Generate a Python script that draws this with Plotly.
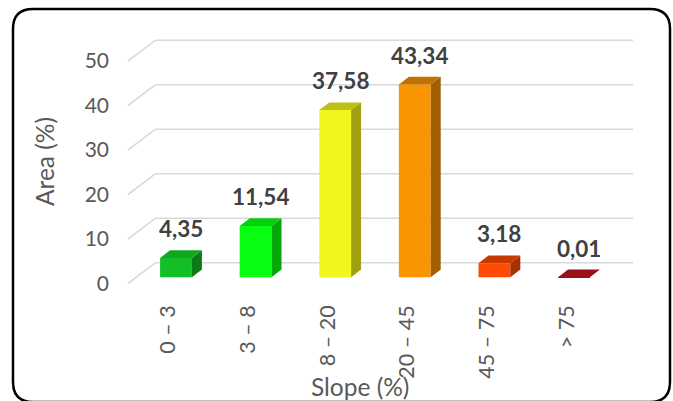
import plotly.graph_objects as go

# Slope classes and share of area (%)
categories = ["0 – 3", "3 – 8", "8 – 20", "20 – 45", "45 – 75", "> 75"]
area_pct = [4.35, 11.54, 37.58, 43.34, 3.18, 0.01]
value_labels = ["4,35", "11,54", "37,58", "43,34", "3,18", "0,01"]
y_ticks = [0, 10, 20, 30, 40, 50]

# Face colours for each column: front, top, side
front_colors = ["#13BF27", "#09FF12", "#F0F71C", "#F99500", "#FF4A08", "#9A1018"]
top_colors = ["#0FA820", "#06CF0E", "#BDBF14", "#C07200", "#C73A00", "#9A1018"]
side_colors = ["#0B7A17", "#04A80A", "#A0A010", "#A05F00", "#A63000", "#7A0C12"]

FONT = "Lato"
BAR_W = 0.4
# oblique depth offsets (axis units)
DEPTH_X, DEPTH_Y = 0.1256, 1.73      # column thickness
WALL_X, WALL_Y = 0.2425, 3.28        # back wall behind the columns
FLOOR_X, FLOOR_Y = -0.103, -1.393    # front edge of the floor

x_idx = list(range(len(categories)))

fig = go.Figure()

# back-wall gridlines with slanted side-wall segments
shapes = []
x_left = -0.5
x_right = len(categories) - 0.5
for v in y_ticks:
    shapes.append(dict(
        type="path", xref="x", yref="y", layer="below",
        path=(f"M {x_left + FLOOR_X} {v + FLOOR_Y} "
              f"L {x_left + WALL_X} {v + WALL_Y} "
              f"L {x_right + WALL_X} {v + WALL_Y}"),
        line=dict(color="#D9D9D9", width=1.6),
    ))

# column front faces
fig.add_trace(go.Bar(
    x=x_idx, y=area_pct, width=BAR_W,
    marker=dict(color=front_colors, line=dict(width=0)),
    hoverinfo="skip", showlegend=False,
))

# side and top faces of each column
for i, v in enumerate(area_pct):
    xl = i - BAR_W / 2
    xr = i + BAR_W / 2
    side_x = [xr, xr + DEPTH_X, xr + DEPTH_X, xr, xr]
    side_y = [0, DEPTH_Y, v + DEPTH_Y, v, 0]
    fig.add_trace(go.Scatter(
        x=side_x, y=side_y, mode="lines", fill="toself",
        fillcolor=side_colors[i], line=dict(width=0, color=side_colors[i]),
        hoverinfo="skip", showlegend=False,
    ))
    top_x = [xl, xr, xr + DEPTH_X, xl + DEPTH_X, xl]
    top_y = [v, v, v + DEPTH_Y, v + DEPTH_Y, v]
    fig.add_trace(go.Scatter(
        x=top_x, y=top_y, mode="lines", fill="toself",
        fillcolor=top_colors[i], line=dict(width=0, color=top_colors[i]),
        hoverinfo="skip", showlegend=False,
    ))

annotations = []
for i, v in enumerate(area_pct):
    annotations.append(dict(
        x=i + DEPTH_X / 2, y=v + DEPTH_Y, xref="x", yref="y",
        text=value_labels[i], showarrow=False, yanchor="bottom",
        yshift=6, font=dict(family=FONT, size=22.5, color="#404040", weight="bold"),
    ))

annotations.append(dict(
    x=0.4545, y=-0.2966, xref="paper", yref="paper", text="Slope (%)",
    showarrow=False, xanchor="center", yanchor="middle",
    font=dict(family=FONT, size=24.5, color="#595959"),
))
annotations.append(dict(
    x=-0.118, y=0.476, xref="paper", yref="paper", text="Area (%)",
    showarrow=False, textangle=-90, xanchor="center", yanchor="middle",
    font=dict(family=FONT, size=24.5, color="#595959"),
))

# rounded outer frame
L, R, T, B = 110, 660, 10, 300
def px(xp):
    return (xp - L) / (R - L)
def py(yp):
    return (B - yp) / (B - T)
fl, fr, ft, fb, rad = 13, 670, 9, 402, 20
frame_path = (
    f"M {px(fl + rad)} {py(ft)} L {px(fr - rad)} {py(ft)} "
    f"Q {px(fr)} {py(ft)} {px(fr)} {py(ft + rad)} "
    f"L {px(fr)} {py(fb - rad)} Q {px(fr)} {py(fb)} {px(fr - rad)} {py(fb)} "
    f"L {px(fl + rad)} {py(fb)} Q {px(fl)} {py(fb)} {px(fl)} {py(fb - rad)} "
    f"L {px(fl)} {py(ft + rad)} Q {px(fl)} {py(ft)} {px(fl + rad)} {py(ft)} Z"
)
shapes.append(dict(type="path", xref="paper", yref="paper", path=frame_path,
                   line=dict(color="black", width=2.5), layer="above"))

fig.update_layout(
    width=673, height=401,
    margin=dict(l=L, r=673 - R, t=T, b=401 - B),
    paper_bgcolor="white", plot_bgcolor="white",
    shapes=shapes, annotations=annotations,
    showlegend=False,
    xaxis=dict(
        range=[-0.8291, 6.0804], showgrid=False, zeroline=False, showline=False,
        tickmode="array", tickvals=[i - 0.094 for i in x_idx], ticktext=categories,
        tickangle=-90, ticks="", fixedrange=True,
        tickfont=dict(family=FONT, size=21.5, color="#595959"),
    ),
    yaxis=dict(
        range=[-5.101, 60.07], showgrid=False, zeroline=False, showline=False,
        tickmode="array", tickvals=[v + FLOOR_Y for v in y_ticks],
        ticktext=[str(v) for v in y_ticks], ticks="", fixedrange=True,
        tickfont=dict(family=FONT, size=21, color="#595959"),
    ),
)

fig.write_html("out.html")
